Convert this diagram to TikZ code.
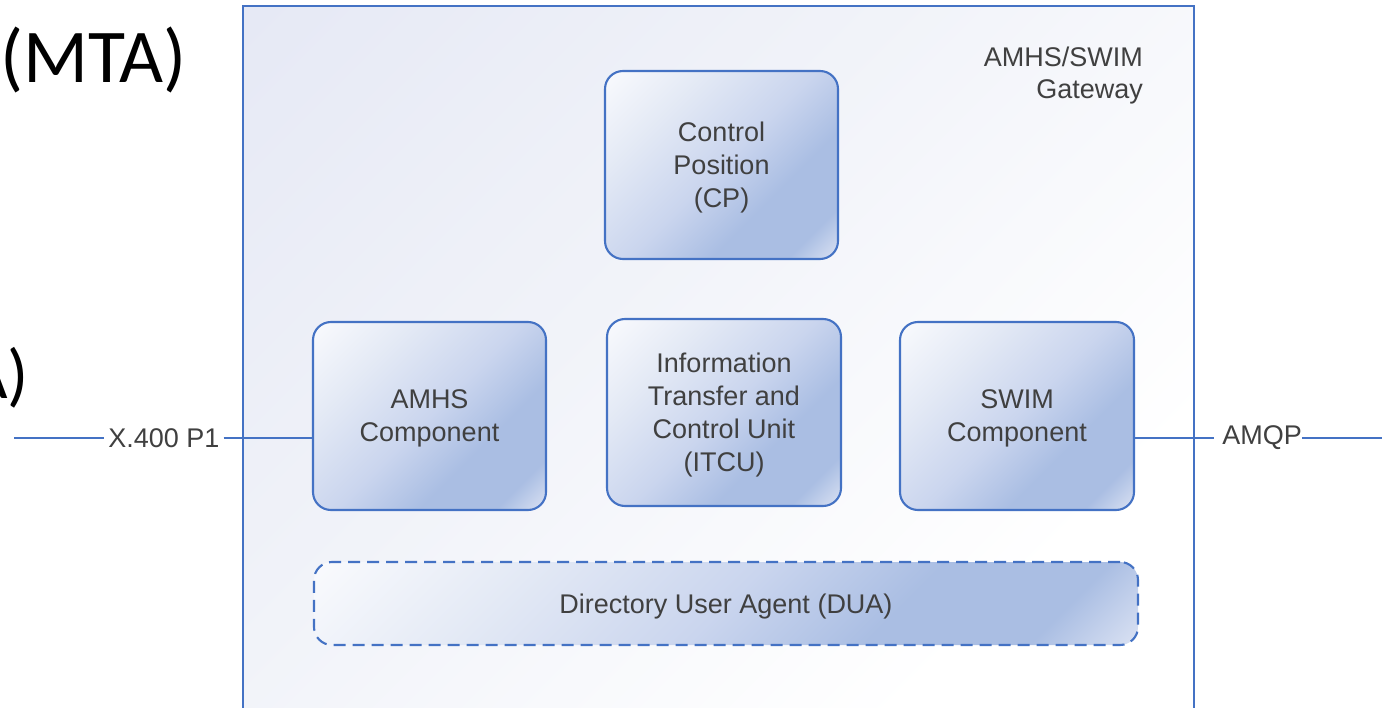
\documentclass[tikz,border=0pt]{standalone}
\usepackage{fontspec}
\setmainfont{Liberation Sans}
\newfontfamily\calfont{Carlito}
\definecolor{bordblue}{HTML}{4472C4}
\definecolor{txtgray}{HTML}{404040}
\definecolor{s0}{HTML}{F9FAFD}
\definecolor{sa}{HTML}{E3E9F5}
\definecolor{s1}{HTML}{CAD5EE}
\definecolor{s2}{HTML}{AABEE3}
\definecolor{s3}{HTML}{D8E0F2}
\definecolor{g0}{HTML}{E6E9F5}
\definecolor{g1}{HTML}{F1F3F9}
\pgfdeclarehorizontalshading{boxshade}{100bp}{color(0bp)=(s0); color(15bp)=(s0); color(32bp)=(sa); color(50bp)=(s1); color(64bp)=(s2); color(77bp)=(s2); color(85bp)=(s3); color(100bp)=(s3)}
\pgfdeclarehorizontalshading{gwshade}{100bp}{color(0bp)=(g0); color(15bp)=(g0); color(42bp)=(g1); color(72bp)=(white); color(100bp)=(white)}
\begin{document}
\begin{tikzpicture}[x=1pt,y=-1pt,
  compbox/.style={draw=bordblue, line width=2.1pt, rounded corners=18pt,
    shading=boxshade, shading angle=-45, text=txtgray,
    font=\fontsize{27}{33}\selectfont, align=center, inner sep=0pt, text depth=0pt},
  gwbox/.style={draw=bordblue, line width=2.1pt, shading=gwshade, shading angle=-45},
  lbl/.style={text=txtgray, font=\fontsize{27}{33}\selectfont, inner xsep=4pt, inner ysep=0pt},
  conn/.style={draw=bordblue, line width=2.1pt},
  bigtxt/.style={font=\calfont\fontsize{76}{80}\selectfont, text=black, inner sep=0pt}]
\useasboundingbox (0,0) rectangle (1389,708);
\fill[white] (0,0) rectangle (1389,708);
% background slide text
\node[bigtxt, anchor=base east] (mta) at (187,83) {(MTA)};
\node[bigtxt, anchor=base east, font=\calfont\fontsize{70}{74}\selectfont] (ua) at (29,398) {A)};
% gateway
\path[gwbox] (243,6) rectangle (1194,740);
\node[anchor=north east, align=right, text=txtgray, font=\fontsize{27}{32}\selectfont, inner sep=0pt] (gwlbl) at (1143,47) {AMHS/SWIM\\Gateway};
% components
\node[compbox, minimum width=233pt, minimum height=188pt] (cp) at (721.5,165) {Control\\Position\\(CP)};
\node[compbox, minimum width=233pt, minimum height=188pt] (amhs) at (429.5,416) {AMHS\\Component};
\node[compbox, minimum width=234pt, minimum height=187pt] (itcu) at (724,412.5) {Information\\Transfer and\\Control Unit\\(ITCU)};
\node[compbox, minimum width=234pt, minimum height=188pt] (swim) at (1017,416) {SWIM\\Component};
\node[compbox, dashed, dash pattern=on 12pt off 7pt, minimum width=824pt, minimum height=83pt] (dua) at (726,603.5) {Directory User Agent (DUA)};
% connectors
\coordinate (lend) at (14,438);
\coordinate (rend) at (1382,438);
\node[lbl] (x400) at (164,438) {X.400 P1};
\node[lbl, inner xsep=0.5pt] (amqp) at (1262,438) {AMQP};
\draw[conn] (lend) -- (x400.west);
\draw[conn] (x400.east) -- (amhs.west |- x400.east);
\draw[conn] (swim.east |- amqp.west) -- ([xshift=-8pt]amqp.west);
\draw[conn] (amqp.east) -- (rend);
\end{tikzpicture}
\end{document}
